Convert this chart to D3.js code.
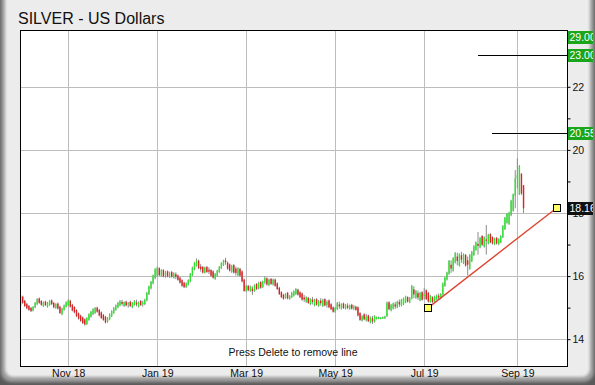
<!DOCTYPE html>
<html>
<head>
<meta charset="utf-8">
<script src="https://cdn.jsdelivr.net/npm/d3@7"></script>
<style>
  body { margin: 0; background: #5c5c5c; }
  svg { display: block; }
  text { font-family: Arial, "Liberation Sans", sans-serif; }
</style>
</head>
<body>
<div id="chart"></div>
<script>
// daily bars, one array per month: [open, high, low, close]
const oct18 = [
  [15.08,15.40,15.05,15.36],[15.35,15.38,15.12,15.15],[15.22,15.25,15.02,15.05],[15.12,15.15,14.95,14.98],
  [15.06,15.08,14.90,14.93],[14.99,15.02,14.86,14.89],[14.91,15.05,14.88,15.02],[15.01,15.18,14.98,15.15],
  [15.11,15.30,15.08,15.27],[15.29,15.32,15.12,15.15],[15.21,15.24,15.06,15.09],[15.05,15.20,15.02,15.17],
  [15.19,15.22,15.05,15.08],[15.03,15.18,15.00,15.15],[15.09,15.24,15.06,15.21],[15.23,15.26,15.08,15.11],
  [15.15,15.18,14.98,15.01],[14.99,15.14,14.96,15.11],[15.13,15.16,14.94,14.97],[15.03,15.06,14.80,14.83],
  [14.79,15.00,14.76,14.97],[14.93,15.10,14.90,15.07],[15.03,15.20,15.00,15.17]
];
const nov18 = [
  [15.08,15.26,15.05,15.23],[15.22,15.25,15.00,15.03],[15.09,15.12,14.88,14.91],[15.02,15.05,14.82,14.85],
  [14.92,14.95,14.70,14.73],[14.82,14.85,14.62,14.65],[14.75,14.78,14.55,14.58],[14.69,14.72,14.48,14.51],
  [14.63,14.66,14.43,14.46],[14.48,14.70,14.45,14.67],[14.61,14.82,14.58,14.79],[14.71,14.90,14.68,14.87],
  [14.79,14.98,14.76,14.95],[14.83,15.02,14.80,14.99],[15.00,15.03,14.84,14.87],[14.93,14.96,14.72,14.75],
  [14.85,14.88,14.64,14.67],[14.77,14.80,14.58,14.61],[14.71,14.74,14.50,14.53],[14.55,14.70,14.52,14.67],
  [14.63,14.82,14.60,14.79],[14.73,14.92,14.70,14.89]
];
const dec18 = [
  [14.83,15.02,14.80,14.99],[14.93,15.10,14.90,15.07],[15.01,15.18,14.98,15.15],[15.07,15.24,15.04,15.21],
  [15.18,15.25,15.06,15.12],[15.05,15.20,15.02,15.17],[15.19,15.22,15.04,15.07],[15.12,15.18,15.00,15.14],
  [15.19,15.22,15.02,15.05],[15.01,15.18,14.98,15.15],[15.09,15.24,15.06,15.21],[15.16,15.25,15.04,15.10],
  [15.03,15.20,15.00,15.17],[15.21,15.24,15.05,15.08],[15.10,15.22,15.03,15.16],[15.11,15.28,15.08,15.25],
  [15.23,15.50,15.20,15.47],[15.43,15.70,15.40,15.67],[15.61,15.85,15.58,15.82],[15.77,16.05,15.74,16.02],
  [15.93,16.25,15.90,16.22]
];
const jan19 = [
  [16.01,16.30,15.98,16.27],[16.25,16.28,16.00,16.03],[16.01,16.22,15.98,16.19],[16.19,16.22,15.96,15.99],
  [16.04,16.16,15.95,16.10],[16.15,16.18,15.96,15.99],[16.02,16.14,15.94,16.08],[16.13,16.16,15.95,15.98],
  [15.95,16.12,15.92,16.09],[16.06,16.12,15.90,15.98],[16.02,16.05,15.85,15.88],[15.95,15.98,15.76,15.79],
  [15.87,15.90,15.66,15.69],[15.79,15.82,15.62,15.65],[15.65,15.80,15.62,15.77],[15.73,15.90,15.70,15.87],
  [15.83,16.10,15.80,16.07],[16.03,16.30,16.00,16.27],[16.21,16.45,16.18,16.42],[16.33,16.56,16.30,16.50],
  [16.49,16.52,16.22,16.25],[16.30,16.38,16.14,16.22],[16.29,16.32,16.08,16.11]
];
const feb19 = [
  [16.11,16.30,16.08,16.27],[16.29,16.32,16.10,16.13],[16.20,16.28,16.06,16.14],[16.19,16.22,15.98,16.01],
  [16.15,16.18,15.92,15.95],[15.91,16.10,15.88,16.07],[16.01,16.20,15.98,16.17],[16.13,16.32,16.10,16.29],
  [16.25,16.44,16.22,16.41],[16.35,16.52,16.32,16.49],[16.50,16.58,16.36,16.44],[16.43,16.46,16.20,16.23],
  [16.37,16.40,16.14,16.17],[16.13,16.36,16.10,16.33],[16.35,16.38,16.08,16.11],[16.24,16.30,16.02,16.10],
  [16.03,16.28,16.00,16.25],[16.23,16.26,15.98,16.01],[16.15,16.18,15.80,15.83],[15.89,15.92,15.50,15.53]
];
const mar19 = [
  [15.53,15.72,15.50,15.69],[15.69,15.72,15.52,15.55],[15.53,15.70,15.50,15.67],[15.60,15.68,15.40,15.52],
  [15.53,15.74,15.50,15.71],[15.75,15.78,15.56,15.59],[15.61,15.82,15.58,15.79],[15.81,15.84,15.60,15.63],
  [15.65,15.86,15.62,15.83],[15.80,16.00,15.74,15.94],[15.93,15.96,15.70,15.73],[15.71,15.92,15.68,15.89],
  [15.91,15.94,15.72,15.75],[15.73,15.92,15.70,15.89],[15.89,15.92,15.66,15.69],[15.77,15.80,15.56,15.59],
  [15.63,15.66,15.40,15.43],[15.49,15.52,15.30,15.33],[15.41,15.44,15.25,15.28],[15.31,15.46,15.28,15.43],
  [15.47,15.50,15.26,15.29]
];
const apr19 = [
  [15.28,15.40,15.25,15.37],[15.33,15.50,15.30,15.47],[15.38,15.55,15.35,15.52],[15.43,15.62,15.40,15.59],
  [15.57,15.60,15.38,15.41],[15.49,15.52,15.30,15.33],[15.45,15.48,15.22,15.25],[15.32,15.40,15.18,15.26],
  [15.18,15.36,15.15,15.33],[15.31,15.34,15.12,15.15],[15.11,15.30,15.08,15.27],[15.26,15.34,15.10,15.18],
  [15.07,15.28,15.04,15.25],[15.27,15.30,15.06,15.09],[15.05,15.24,15.02,15.21],[15.22,15.30,15.06,15.14],
  [15.05,15.28,15.02,15.25],[15.27,15.30,15.04,15.07],[15.08,15.24,15.00,15.18],[15.23,15.26,14.98,15.01],
  [15.11,15.14,14.92,14.95],[15.01,15.04,14.84,14.87]
];
const may19 = [
  [14.87,15.02,14.84,14.99],[14.95,15.18,14.92,15.15],[15.10,15.19,14.96,15.04],[14.97,15.14,14.94,15.11],
  [15.13,15.16,14.96,14.99],[14.97,15.12,14.94,15.09],[15.06,15.14,14.95,15.00],[14.96,15.10,14.93,15.07],
  [15.09,15.12,14.94,14.97],[14.98,15.08,14.92,15.04],[15.03,15.06,14.90,14.93],[15.01,15.04,14.72,14.75],
  [14.83,14.86,14.58,14.61],[14.59,14.76,14.56,14.73],[14.79,14.82,14.60,14.63],[14.60,14.80,14.56,14.72],
  [14.75,14.78,14.54,14.57],[14.53,14.72,14.50,14.69],[14.66,14.74,14.48,14.56],[14.55,14.76,14.52,14.73],
  [14.64,14.72,14.62,14.70],[14.65,14.72,14.63,14.70],[14.64,14.70,14.63,14.69]
];
const jun19 = [
  [14.65,14.72,14.64,14.70],[14.66,14.74,14.64,14.72],[14.73,15.19,14.70,15.16],[15.17,15.20,14.92,14.95],
  [14.91,15.12,14.88,15.09],[14.97,15.16,14.94,15.13],[15.10,15.18,14.96,15.04],[15.01,15.22,14.98,15.19],
  [15.18,15.26,15.02,15.10],[15.07,15.28,15.04,15.25],[15.11,15.32,15.08,15.29],[15.17,15.38,15.14,15.35],
  [15.33,15.36,15.16,15.19],[15.17,15.34,15.14,15.31],[15.29,15.72,15.26,15.69],[15.58,15.68,15.30,15.42],
  [15.31,15.56,15.28,15.53],[15.46,15.54,15.24,15.32],[15.23,15.50,15.20,15.47],[15.49,15.52,15.22,15.25]
];
const jul19 = [
  [15.36,15.62,15.26,15.42],[15.55,15.58,15.24,15.27],[15.47,15.50,15.16,15.19],[15.18,15.40,15.15,15.37],
  [15.33,15.36,15.15,15.18],[15.19,15.38,15.16,15.35],[15.27,15.42,15.24,15.39],[15.38,15.45,15.26,15.32],
  [15.29,15.46,15.26,15.43],[15.41,15.80,15.38,15.77],[15.69,15.98,15.66,15.95],[15.89,16.14,15.86,16.11],
  [16.07,16.51,16.04,16.48],[16.36,16.50,16.10,16.24],[16.17,16.60,16.14,16.57],[16.43,16.76,16.40,16.73],
  [16.62,16.74,16.34,16.48],[16.33,16.72,16.30,16.69],[16.66,16.77,16.42,16.52],[16.41,16.72,16.38,16.69],
  [16.67,16.70,16.30,16.33],[16.50,16.62,16.02,16.36],[16.23,16.70,16.20,16.67]
];
const aug19 = [
  [16.47,16.80,16.44,16.77],[16.67,16.98,16.64,16.95],[16.83,17.10,16.80,17.07],[17.02,17.40,16.68,16.96],
  [16.91,17.24,16.88,17.21],[17.27,17.30,16.96,16.99],[16.93,17.26,16.90,17.23],[17.16,17.62,16.68,17.12],
  [17.03,17.34,17.00,17.31],[17.33,17.36,17.04,17.07],[17.23,17.26,17.00,17.03],[17.01,17.22,16.98,17.19],
  [17.21,17.24,17.00,17.03],[17.01,17.20,16.98,17.17],[17.07,17.30,17.04,17.27],[17.23,17.62,17.20,17.59],
  [17.49,17.88,17.46,17.85],[17.69,18.00,17.66,17.97],[17.65,18.04,17.62,18.01],[17.93,18.42,17.90,18.39],
  [18.07,18.62,18.04,18.59],[18.54,19.36,18.15,19.10]
];
const sep19 = [
  [19.10,19.73,18.78,19.20],[18.60,19.52,18.57,19.48],[19.25,19.25,18.57,18.62],[18.88,18.88,18.00,18.15]
];

const firstDay = new Date(2018, 9, 1);   // first bar, weekdays only after that
const priceTicks = [14, 16, 18, 20, 22];

// price levels drawn as lines with green tags on the axis
const levelValues = [29.0, 23.0, 20.55];
const levelLabels = ["29.00", "23.00", "20.55"];
const levelStarts = [221, 221, 228];      // bar index where the line starts

// user trend line (bar index, price)
const trendIdx = [197, 259];
const trendVals = [15.0, 18.16];
const trendLabel = "18.16";

const bars = [].concat(oct18, nov18, dec18, jan19, feb19, mar19, apr19, may19, jun19, jul19, aug19, sep19);
const dates = [];
for (let d = new Date(firstDay); dates.length < bars.length; d.setDate(d.getDate() + 1)) {
  if (d.getDay() !== 0 && d.getDay() !== 6) dates.push(new Date(d));
}

const W = 595, H = 385;
const plot = { left: 20, top: 30, right: 567, bottom: 366 };

const x = d3.scaleLinear().domain([-0.3, 264]).range([plot.left, plot.right]);
const y = d3.scaleLinear().domain([13.15, 23.8]).range([plot.bottom, plot.top]);

const svg = d3.select("#chart").append("svg").attr("width", W).attr("height", H);
const defs = svg.append("defs");
defs.append("filter").attr("id", "soft")
  .attr("x", "-5%").attr("y", "-5%").attr("width", "110%").attr("height", "110%")
  .append("feGaussianBlur").attr("stdDeviation", 1.6);
defs.append("clipPath").attr("id", "plotClip").append("rect")
  .attr("x", plot.left).attr("y", plot.top)
  .attr("width", plot.right - plot.left).attr("height", plot.bottom - plot.top);
defs.append("clipPath").attr("id", "panelClip").append("rect")
  .attr("x", 0).attr("y", 0).attr("width", 593).attr("height", 377);

// window frame
svg.append("rect").attr("width", W).attr("height", H).attr("fill", "#5a5a5a");
svg.append("rect").attr("x", 1).attr("y", -14).attr("width", 593).attr("height", 396)
  .attr("rx", 10).attr("fill", "#9c9c9c").attr("filter", "url(#soft)");
svg.append("rect").attr("x", 5).attr("y", -14).attr("width", 585).attr("height", 391)
  .attr("rx", 8).attr("fill", "#ececec").attr("filter", "url(#soft)");

// title
svg.append("text").attr("x", 18).attr("y", 24)
  .attr("font-size", 16).attr("fill", "#111")
  .text("SILVER - US Dollars");

// plot background
svg.append("rect")
  .attr("x", plot.left).attr("y", plot.top)
  .attr("width", plot.right - plot.left).attr("height", plot.bottom - plot.top)
  .attr("fill", "#fff");

// month ticks: first trading day of Nov, Jan, Mar, May, Jul, Sep
const monthIdx = dates.map((d, i) => i)
  .filter(i => i > 0 && dates[i].getMonth() !== dates[i - 1].getMonth() && dates[i].getMonth() % 2 === 0);
const fmt = d3.timeFormat("%b %y");

const grid = svg.append("g").attr("shape-rendering", "crispEdges");
grid.selectAll(".vg").data(monthIdx).enter().append("line")
  .attr("x1", d => Math.round(x(d)) + 0.5).attr("x2", d => Math.round(x(d)) + 0.5)
  .attr("y1", plot.top).attr("y2", plot.bottom)
  .attr("stroke", "#bdbdbd");
grid.selectAll(".hg").data(priceTicks).enter().append("line")
  .attr("x1", plot.left).attr("x2", plot.right)
  .attr("y1", d => Math.round(y(d)) + 0.5).attr("y2", d => Math.round(y(d)) + 0.5)
  .attr("stroke", "#bdbdbd");

// candles: grey high-low wick, coloured open-close body
const candles = svg.append("g").attr("clip-path", "url(#plotClip)");
candles.selectAll(".wick").data(bars).enter().append("line")
  .attr("x1", (d, i) => x(i)).attr("x2", (d, i) => x(i))
  .attr("y1", d => y(d[1])).attr("y2", d => y(d[2]))
  .attr("stroke", "#8c8c8c").attr("stroke-width", 1);
candles.selectAll(".body").data(bars).enter().append("rect")
  .attr("x", (d, i) => x(i) - 0.7)
  .attr("width", 1.4)
  .attr("y", d => y(Math.max(d[0], d[3])))
  .attr("height", d => Math.max(1, Math.abs(y(d[0]) - y(d[3]))))
  .attr("fill", d => d[3] >= d[0] ? "#2ee62e" : "#dc2222");

// price level lines
const overlay = svg.append("g").attr("clip-path", "url(#plotClip)");
overlay.selectAll(".lvl").data(levelValues).enter().append("line")
  .attr("x1", (d, i) => x(levelStarts[i])).attr("x2", plot.right)
  .attr("y1", d => Math.round(y(d)) + 0.5).attr("y2", d => Math.round(y(d)) + 0.5)
  .attr("stroke", "#000").attr("shape-rendering", "crispEdges");

// trend line with handles
overlay.append("line")
  .attr("x1", x(trendIdx[0])).attr("y1", y(trendVals[0]))
  .attr("x2", x(trendIdx[1])).attr("y2", y(trendVals[1]))
  .attr("stroke", "#dc4630").attr("stroke-width", 1.4);
overlay.selectAll(".handle").data(trendIdx).enter().append("rect")
  .attr("x", d => Math.round(x(d)) - 3.5)
  .attr("y", (d, i) => Math.round(y(trendVals[i])) - 3.5)
  .attr("width", 7).attr("height", 7)
  .attr("fill", "#ffff66").attr("stroke", "#000").attr("stroke-width", 1);

// frame of the plot
svg.append("rect")
  .attr("x", plot.left + 0.5).attr("y", plot.top + 0.5)
  .attr("width", plot.right - plot.left).attr("height", plot.bottom - plot.top)
  .attr("fill", "none").attr("stroke", "#000").attr("shape-rendering", "crispEdges");

// note
svg.append("text").attr("x", 293).attr("y", 355.5)
  .attr("text-anchor", "middle").attr("font-size", 10.5).attr("fill", "#111")
  .text("Press Delete to remove line");

// bottom axis labels
const xAxis = svg.append("g")
  .attr("transform", `translate(0,${plot.bottom})`)
  .call(d3.axisBottom(x).tickValues(monthIdx).tickFormat(i => fmt(dates[i])).tickSize(0).tickPadding(4));
xAxis.select(".domain").remove();
xAxis.selectAll("text").attr("font-size", 10.5).attr("fill", "#111").attr("font-family", null);

// right price axis
const yAxis = svg.append("g")
  .attr("transform", `translate(${plot.right + 0.5},0)`)
  .call(d3.axisRight(y).tickValues(d3.range(14, 24)).tickSize(3).tickPadding(2)
    .tickFormat(d => d % 2 === 0 ? d : ""));
yAxis.select(".domain").remove();
yAxis.selectAll("line").attr("stroke", "#000");
yAxis.selectAll("text").attr("font-size", 10.5).attr("fill", "#111").attr("font-family", null);

// tags on the price axis
const tags = svg.append("g").attr("clip-path", "url(#panelClip)");
const hi = y.domain()[1];
levelValues.forEach((v, i) => {
  const cy = Math.max(y(Math.min(v, hi)), plot.top + 6.5);
  tags.append("rect").attr("x", plot.right + 1).attr("y", Math.round(cy) - 6)
    .attr("width", 30).attr("height", 13).attr("fill", "#1aa51a");
  tags.append("text").attr("x", plot.right + 2.5).attr("y", Math.round(cy) + 4)
    .attr("font-size", 10.5).attr("fill", "#fff").text(levelLabels[i]);
});
const ty = Math.round(y(trendVals[1]));
tags.append("rect").attr("x", plot.right + 1).attr("y", ty - 6)
  .attr("width", 30).attr("height", 13).attr("fill", "#111");
tags.append("text").attr("x", plot.right + 2.5).attr("y", ty + 4)
  .attr("font-size", 10.5).attr("fill", "#fff").text(trendLabel);
</script>
</body>
</html>
